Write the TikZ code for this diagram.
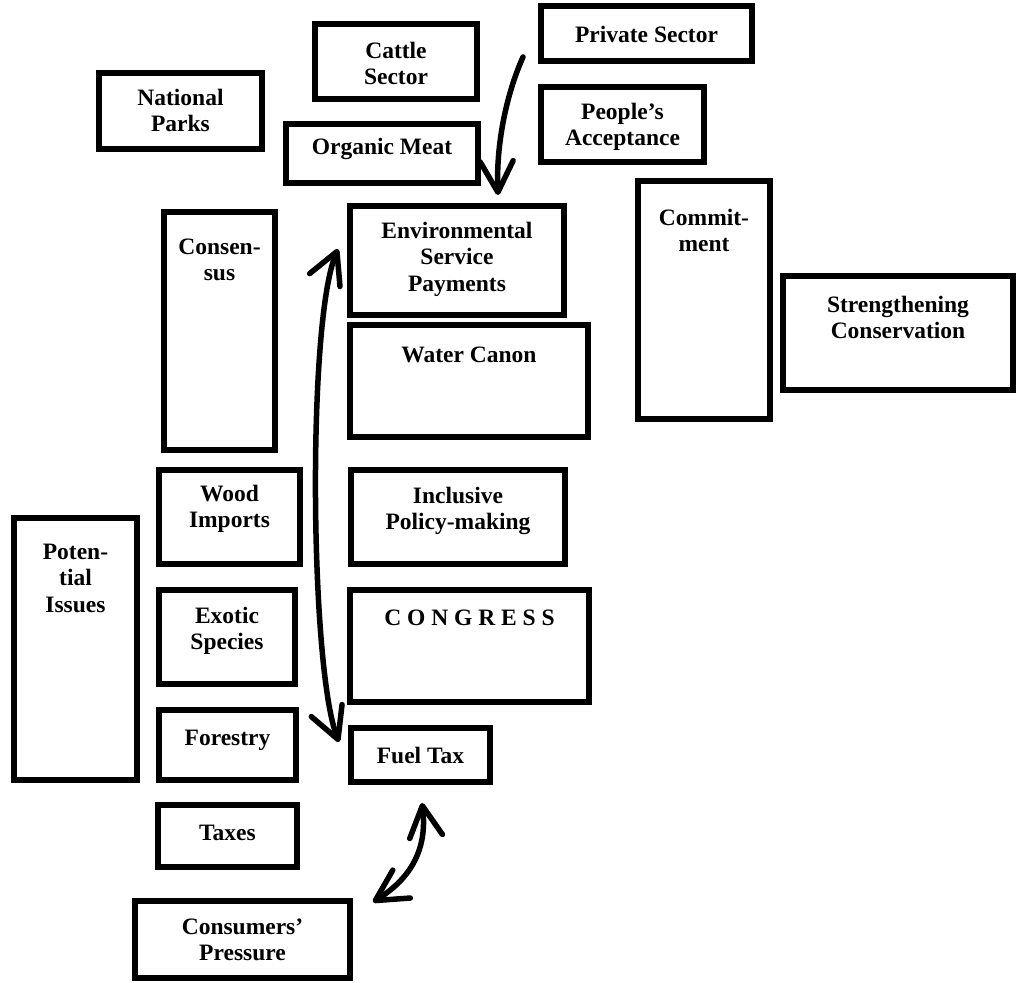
\documentclass[tikz,border=0pt]{standalone}
\usepackage{fontspec}
\setmainfont{Liberation Serif}
\usetikzlibrary{arrows.meta,calc}

\tikzset{
  box/.style={draw=black, line width=6pt, rectangle, inner sep=0pt},
  lbl/.style={font=\bfseries\fontsize{23.5}{26.5}\selectfont, align=center,
              inner sep=0pt, anchor=north, execute at begin node=\strut},
  barbtip/.tip={Straight Barb[length=31pt,width=33pt,round]},
  oneway/.style={line width=5.5pt, line cap=round, -barbtip},
  twoway/.style={line width=5.5pt, line cap=round, barbtip-barbtip},
}

\begin{document}
\begin{tikzpicture}[x=1pt, y=-1pt]
  \useasboundingbox (0,0) rectangle (1016,982);

  % ---- boxes ----
  \node[box, minimum width=163pt, minimum height=76pt]  (natparks)   at (180.5,111)   {};
  \node[box, minimum width=162pt, minimum height=75pt]  (cattle)     at (396,61.5)    {};
  \node[box, minimum width=211pt, minimum height=55pt]  (private)    at (646.5,33.5)  {};
  \node[box, minimum width=192pt, minimum height=59pt]  (organic)    at (382,153.5)   {};
  \node[box, minimum width=163pt, minimum height=75pt]  (peoples)    at (622.5,124.5) {};
  \node[box, minimum width=214pt, minimum height=109pt] (esp)        at (457,260.5)   {};
  \node[box, minimum width=111pt, minimum height=238pt] (consensus)  at (219.5,331)   {};
  \node[box, minimum width=238pt, minimum height=112pt] (water)      at (469,381)     {};
  \node[box, minimum width=132pt, minimum height=238pt] (commitment) at (704,300)     {};
  \node[box, minimum width=230pt, minimum height=114pt] (strength)   at (898,333)     {};
  \node[box, minimum width=141pt, minimum height=94pt]  (wood)       at (229.5,517)   {};
  \node[box, minimum width=214pt, minimum height=94pt]  (inclusive)  at (458,517)     {};
  \node[box, minimum width=123pt, minimum height=262pt] (potential)  at (75.5,649)    {};
  \node[box, minimum width=136pt, minimum height=94pt]  (exotic)     at (227,637)     {};
  \node[box, minimum width=239pt, minimum height=112pt] (congress)   at (469.5,646)   {};
  \node[box, minimum width=137pt, minimum height=70pt]  (forestry)   at (227.5,745)   {};
  \node[box, minimum width=139pt, minimum height=54pt]  (fueltax)    at (420.5,755)   {};
  \node[box, minimum width=139pt, minimum height=62pt]  (taxes)      at (227.5,836)   {};
  \node[box, minimum width=215pt, minimum height=77pt]  (consumers)  at (242.5,939.5) {};

  % ---- labels (set at the top of each box) ----
  \node[lbl] (natparks-t)   at ([yshift=-18.5pt]natparks.north)   {National\\Parks};
  \node[lbl] (cattle-t)     at ([yshift=-20.5pt]cattle.north)     {Cattle\\Sector};
  \node[lbl] (private-t)    at ([yshift=-20.5pt]private.north)    {Private Sector};
  \node[lbl] (organic-t)    at ([yshift=-15pt]organic.north)      {Organic Meat};
  \begin{scope}
    \clip (538,84) rectangle (707,150);
    \node[lbl] (peoples-t)  at ([yshift=-18.5pt]peoples.north)    {People’s\\Acceptance};
  \end{scope}
  \node[lbl] (esp-t)        at ([yshift=-18.5pt]esp.north)        {Environmental\\Service\\Payments};
  \node[lbl] (consensus-t)  at ([yshift=-29.5pt]consensus.north)  {Consen-\\sus};
  \node[lbl] (water-t)      at ([yshift=-21.5pt]water.north)      {Water Canon};
  \node[lbl] (commitment-t) at ([yshift=-30.5pt]commitment.north) {Commit-\\ment};
  \node[lbl] (strength-t)   at ([yshift=-22.5pt]strength.north)   {Strengthening\\Conservation};
  \node[lbl] (wood-t)       at ([yshift=-17.5pt]wood.north)       {Wood\\Imports};
  \node[lbl] (inclusive-t)  at ([yshift=-19.5pt]inclusive.north)  {Inclusive\\Policy-making};
  \node[lbl] (potential-t)  at ([yshift=-28.5pt]potential.north)  {Poten-\\tial\\Issues};
  \node[lbl] (exotic-t)     at ([yshift=-19.5pt]exotic.north)     {Exotic\\Species};
  \node[lbl] (congress-t)   at ([yshift=-19.5pt]congress.north)   {C O N G R E S S};
  \node[lbl] (forestry-t)   at ([yshift=-19.5pt]forestry.north)   {Forestry};
  \node[lbl] (fueltax-t)    at ([yshift=-19.5pt]fueltax.north)    {Fuel Tax};
  \node[lbl] (taxes-t)      at ([yshift=-19.5pt]taxes.north)      {Taxes};
  \node[lbl] (consumers-t)  at ([yshift=-20.5pt]consumers.north)  {Consumers’\\Pressure};

  % ---- arrow end points ----
  \coordinate (private-out)  at (523,57);
  \coordinate (esp-in)       at (498,195);
  \coordinate (esp-side)     at (338,249);
  \coordinate (fueltax-side) at (339,742);
  \coordinate (fueltax-low)  at (422,803);
  \coordinate (consumers-up) at (373,902);

  % ---- arrows ----
  \draw[oneway] (private-out) .. controls (506,95) and (496,145) .. (esp-in);
  \draw[twoway] (esp-side) .. controls (307,322) and (310,668) .. (fueltax-side);
  \draw[twoway] (fueltax-low) .. controls (428,852) and (408,880) .. (consumers-up);
\end{tikzpicture}
\end{document}
